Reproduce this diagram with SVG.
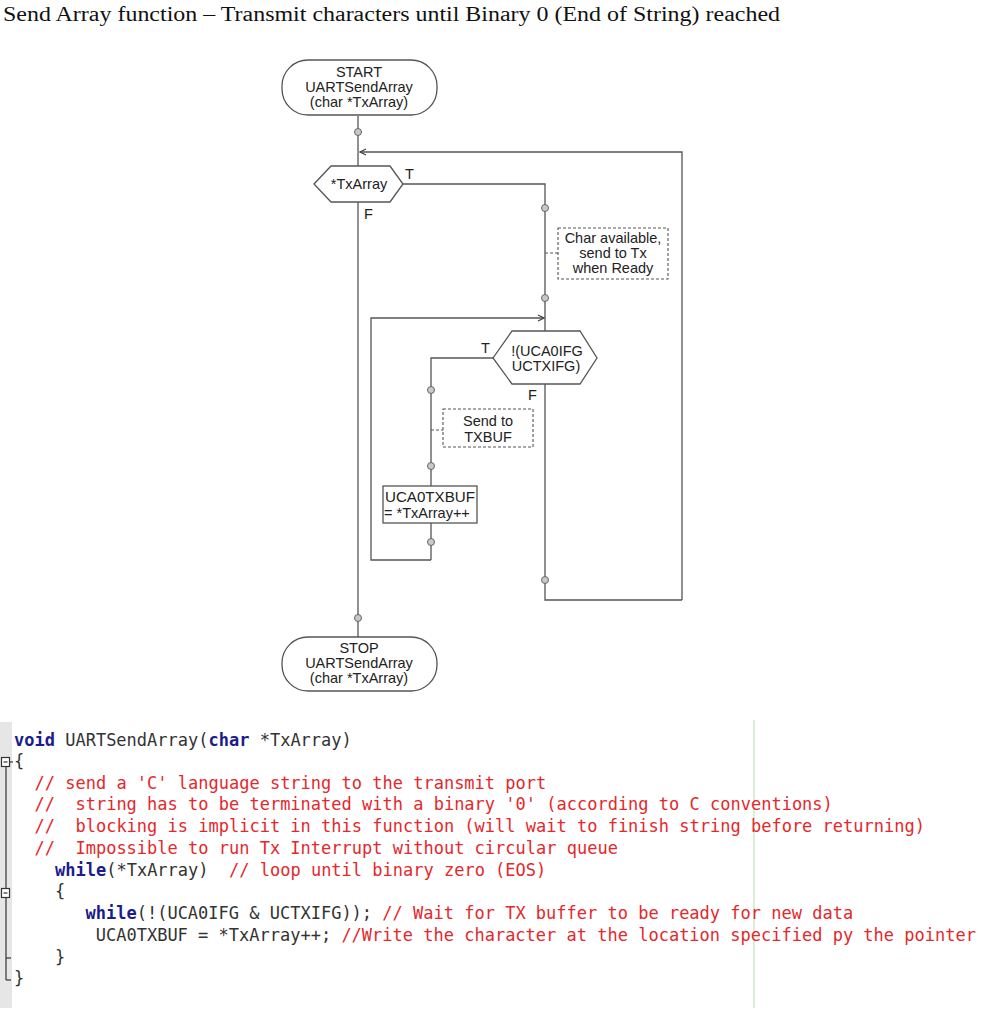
<svg xmlns="http://www.w3.org/2000/svg" width="988" height="1024" viewBox="0 0 988 1024">
<style>
.ln{fill:none;stroke:#555;stroke-width:1.3}
.dash{fill:none;stroke:#555;stroke-width:1.1;stroke-dasharray:3 2}
.shape{fill:#fff;stroke:#555;stroke-width:1.3}
.dot{fill:#c8c8c8;stroke:#666;stroke-width:1}
.fc{font-family:"Liberation Sans",Arial,sans-serif;font-size:14.5px;fill:#222}
.mid{text-anchor:middle}
.code{font-family:"DejaVu Sans Mono",monospace;font-size:17px;fill:#333;white-space:pre}
.kw{fill:#1c1c8a;font-weight:bold}
.cm{fill:#e4282c}
</style>
<defs>
<marker id="arr" markerWidth="8" markerHeight="8" refX="7" refY="4" orient="auto" markerUnits="userSpaceOnUse">
<path d="M1,1 L7,4 L1,7" fill="none" stroke="#444" stroke-width="1.2"/>
</marker>
</defs>
<rect width="988" height="1024" fill="#fff"/>
<text x="3" y="21" font-family="'Liberation Serif',serif" font-size="20" fill="#111" textLength="777" lengthAdjust="spacingAndGlyphs">Send Array function – Transmit characters until Binary 0 (End of String) reached</text>

<g id="connectors">
<line class="ln" x1="358" y1="116" x2="358" y2="637"/>
<polyline class="ln" points="682,600 682,152 360,152" marker-end="url(#arr)"/>
<polyline class="ln" points="403,184 545,184 545,600 682,600"/>
<polyline class="ln" points="431,560 371,560 371,318 544,318" marker-end="url(#arr)"/>
<polyline class="ln" points="493,358 431,358 431,560"/>
<line class="dash" x1="545" y1="253" x2="558" y2="253"/>
<line class="dash" x1="431" y1="430" x2="443" y2="430"/>
<circle class="dot" cx="358" cy="132" r="3.5"/>
<circle class="dot" cx="545" cy="208" r="3.5"/>
<circle class="dot" cx="545" cy="298" r="3.5"/>
<circle class="dot" cx="545" cy="580" r="3.5"/>
<circle class="dot" cx="431" cy="390" r="3.5"/>
<circle class="dot" cx="431" cy="466" r="3.5"/>
<circle class="dot" cx="431" cy="542" r="3.5"/>
<circle class="dot" cx="358" cy="618" r="3.5"/>
<text class="fc" x="405" y="179">T</text>
<text class="fc" x="364" y="219">F</text>
<text class="fc" x="481" y="353">T</text>
<text class="fc" x="528" y="400">F</text>
</g>

<g id="start">
<rect class="shape" x="282" y="60" width="155" height="55" rx="26" ry="26"/>
<text class="fc mid" x="359" y="77">START</text>
<text class="fc mid" x="359" y="92">UARTSendArray</text>
<text class="fc mid" x="359" y="107">(char *TxArray)</text>
</g>

<g id="dec1">
<polygon class="shape" points="314,184 331,166 390,166 403,184 390,202 331,202"/>
<text class="fc mid" x="359" y="189">*TxArray</text>
</g>

<g id="note1">
<rect class="dash" x="558" y="228" width="110" height="51"/>
<text class="fc mid" x="613" y="243">Char available,</text>
<text class="fc mid" x="613" y="258">send to Tx</text>
<text class="fc mid" x="613" y="273">when Ready</text>
</g>

<g id="dec2">
<polygon class="shape" points="493,358 512,331 580,331 597,358 580,384 512,384"/>
<text class="fc mid" x="547" y="356">!(UCA0IFG</text>
<text class="fc mid" x="546" y="371">UCTXIFG)</text>
</g>

<g id="note2">
<rect class="dash" x="443" y="409" width="90" height="38"/>
<text class="fc mid" x="488" y="426">Send to</text>
<text class="fc mid" x="488" y="442">TXBUF</text>
</g>

<g id="proc">
<rect class="shape" x="383" y="486" width="94" height="37"/>
<text class="fc" x="385" y="502" textLength="90" lengthAdjust="spacingAndGlyphs">UCA0TXBUF</text>
<text class="fc" x="384" y="518">= *TxArray++</text>
</g>

<g id="stop">
<rect class="shape" x="282" y="637" width="155" height="54" rx="26" ry="26"/>
<text class="fc mid" x="359" y="653">STOP</text>
<text class="fc mid" x="359" y="668">UARTSendArray</text>
<text class="fc mid" x="359" y="683">(char *TxArray)</text>
</g>

<g id="code">
<rect x="0" y="722" width="12" height="286" fill="#e6e6e6"/>
<line x1="754" y1="720" x2="754" y2="1008" stroke="#cfe8c8" stroke-width="1.5"/>
<g stroke="#333" stroke-width="1.2" fill="none">
<line x1="6" y1="766" x2="6" y2="980"/>
<line x1="6" y1="980" x2="11" y2="980"/>
<line x1="6" y1="958" x2="11" y2="958"/>
<rect x="1.5" y="757.5" width="8" height="9" fill="#fff"/>
<line x1="3.5" y1="762" x2="7.5" y2="762"/>
<line x1="9.5" y1="762" x2="13" y2="762"/>
<rect x="1.5" y="888.5" width="8" height="9" fill="#fff"/>
<line x1="3.5" y1="893" x2="7.5" y2="893"/>
</g>
<text class="code" x="14" y="746"><tspan class="kw">void</tspan> UARTSendArray(<tspan class="kw">char</tspan> *TxArray)</text>
<text class="code" x="14" y="767">{</text>
<text class="code cm" x="34.5" y="789">// send a 'C' language string to the transmit port</text>
<text class="code cm" x="34.5" y="810">//  string has to be terminated with a binary '0' (according to C conventions)</text>
<text class="code cm" x="34.5" y="832">//  blocking is implicit in this function (will wait to finish string before returning)</text>
<text class="code cm" x="34.5" y="854">//  Impossible to run Tx Interrupt without circular queue</text>
<text class="code" x="55" y="876"><tspan class="kw">while</tspan>(*TxArray)  <tspan class="cm">// loop until binary zero (EOS)</tspan></text>
<text class="code" x="55" y="897">{</text>
<text class="code" x="85.5" y="919"><tspan class="kw">while</tspan>(!(UCA0IFG &amp; UCTXIFG)); <tspan class="cm">// Wait for TX buffer to be ready for new data</tspan></text>
<text class="code" x="85.5" y="941"> UCA0TXBUF = *TxArray++; <tspan class="cm">//Write the character at the location specified py the pointer</tspan></text>
<text class="code" x="55" y="963">}</text>
<text class="code" x="14" y="984">}</text>
</g>
</svg>
